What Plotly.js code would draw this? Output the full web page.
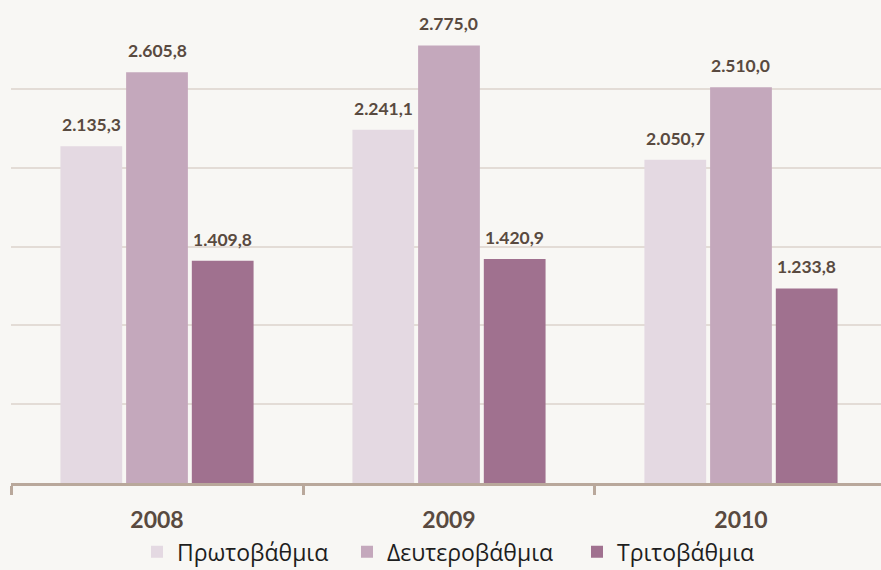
<!DOCTYPE html>
<html><head><meta charset="utf-8">
<script src="https://cdn.plot.ly/plotly-3.0.1.min.js"></script>
<style>html,body{margin:0;padding:0;background:#f8f7f4;}</style>
</head><body>
<div id="chart" style="width:881px;height:570px;"></div>
<script>
const years = ['2008', '2009', '2010'];
const seriesNames = ['Πρωτοβάθμια', 'Δευτεροβάθμια', 'Τριτοβάθμια'];
const primary = [2135.3, 2241.1, 2050.7];
const secondary = [2605.8, 2775.0, 2510.0];
const tertiary = [1409.8, 1420.9, 1233.8];
const colors = ['#e4d9e2', '#c4a8bc', '#a0718f'];

const seriesValues = [primary, secondary, tertiary];
const legendIds = ['legend', 'legend2', 'legend3'];
const legendX = [137, 347, 577];

function fmt(v) {
  const parts = v.toFixed(1).split('.');
  const intPart = parts[0].replace(/\B(?=(\d{3})+(?!\d))/g, '.');
  return intPart + ',' + parts[1];
}

const traces = seriesValues.map((vals, i) => ({
  type: 'bar',
  name: seriesNames[i],
  legend: legendIds[i],
  x: years,
  y: vals,
  marker: {color: colors[i], line: {width: 0}},
  hoverinfo: 'skip'
}));

const slot = 65.7;
const annotations = [];
seriesValues.forEach((vals, i) => {
  vals.forEach((v, j) => {
    annotations.push({
      x: j, y: v, xref: 'x', yref: 'y',
      text: '<b>' + fmt(v) + '</b>', showarrow: false,
      xanchor: 'center', yanchor: 'bottom',
      xshift: (i - 1) * slot, yshift: 9,
      font: {family: 'Lato', size: 17.5, color: '#594a40'}
    });
  });
});

const layout = {
  width: 881, height: 570,
  paper_bgcolor: '#f8f7f4', plot_bgcolor: '#f8f7f4',
  margin: {l: 11, r: 0, t: 10, b: 87},
  barmode: 'group',
  bargap: 0.325,
  bargroupgap: 0.06,
  showlegend: true,
  xaxis: {
    type: 'category',
    range: [-0.5, 2.4795],
    showline: true, linecolor: '#b9a89b', linewidth: 3,
    ticks: 'outside', tickson: 'boundaries', ticklen: 9, tickwidth: 3, tickcolor: '#b9a89b',
    ticklabelstandoff: 14,
    tickfont: {family: 'Lato', size: 23, color: '#594a40', weight: 'bold'},
    showgrid: false, fixedrange: true
  },
  yaxis: {
    range: [0, 3000],
    dtick: 500,
    showticklabels: false,
    showgrid: true, gridcolor: '#e3dcd6', gridwidth: 2,
    zeroline: false, showline: false, fixedrange: true
  },
  annotations: annotations
};

legendIds.forEach((id, i) => {
  layout[id] = {
    orientation: 'h',
    xref: 'container', x: legendX[i] / 881, xanchor: 'left',
    yref: 'container', y: 0.032, yanchor: 'middle',
    font: {family: 'Open Sans', size: 23, color: '#1e1e1e'},
    itemwidth: 30, bgcolor: 'rgba(0,0,0,0)'
  };
});

Plotly.newPlot('chart', traces, layout, {displayModeBar: false, staticPlot: true});
</script>
</body></html>
